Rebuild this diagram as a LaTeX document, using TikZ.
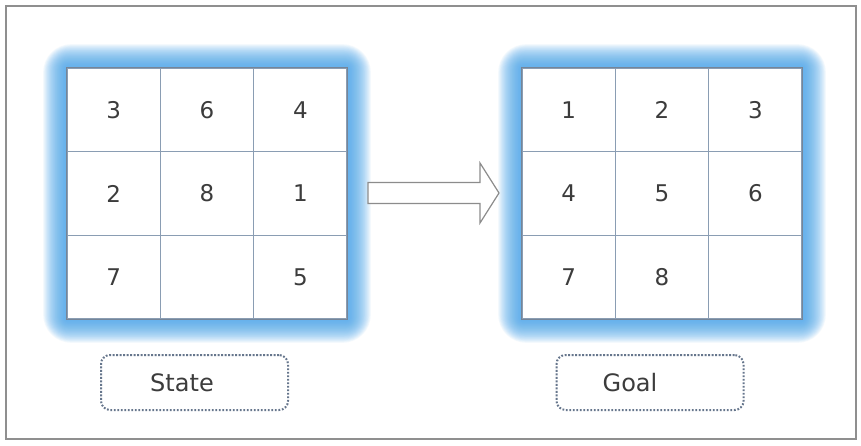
\documentclass[tikz,border=0pt]{standalone}
\usepackage{fontspec}
\setmainfont{DejaVu Sans}
\begin{document}
\begin{tikzpicture}[x=1pt,y=-1pt,
  gridline/.style={draw=gridcol,line width=1.4pt},
  cell/.style={gridline,minimum width=93.33pt,minimum height=83.67pt,inner sep=0pt,fill=white},
  digit/.style={text=txtcol,font=\fontsize{23}{26}\selectfont},
  labelbox/.style={draw=dotcol,line width=2pt,line cap=butt,dash pattern=on 1.8pt off 1.7pt,
     rounded corners=9pt,minimum width=187pt,minimum height=55pt,inner sep=0pt},
  labeltext/.style={font=\fontsize{24}{28}\selectfont,text=txtcol,inner sep=0pt},
  arrowshape/.style={draw=arrcol,line width=1.2pt,fill=white,line join=miter}
]
\definecolor{gridcol}{HTML}{8A9DB3}
\definecolor{txtcol}{HTML}{3C3C3C}
\definecolor{dotcol}{HTML}{66768C}
\definecolor{glowcol}{HTML}{4AA6EC}
\definecolor{arrcol}{HTML}{8C8C8C}
\definecolor{framecol}{HTML}{8F8F8F}
\useasboundingbox (0,0) rectangle (861,446);
\fill[white] (0,0) rectangle (861,446);
\draw[framecol,line width=1.6pt] (6,6) rectangle (856,439);
% glows
\foreach \gx in {67,522}{
  \foreach \i in {1,...,28}{
    \fill[glowcol,opacity=0.058,rounded corners=\i pt]
      ({\gx-\i*0.85},{68-\i*0.85}) rectangle ({\gx+280+\i*0.85},{319+\i*0.85});
  }
}
% grids
\foreach \r/\row in {0/a,1/b,2/c}{
  \foreach \c/\col in {0/1,1/2,2/3}{
    \node[cell] (s\row\col) at ({67+46.67+93.33*\c},{68+41.83+83.67*\r}) {};
    \node[cell] (g\row\col) at ({522+46.67+93.33*\c},{68+41.83+83.67*\r}) {};
  }
}
\node[digit] (sa1t) at (sa1) {3};
\node[digit] (sa2t) at (sa2) {6};
\node[digit] (sa3t) at (sa3) {4};
\node[digit] (sb1t) at (sb1) {2};
\node[digit] (sb2t) at (sb2) {8};
\node[digit] (sb3t) at (sb3) {1};
\node[digit] (sc1t) at (sc1) {7};
\node[digit] (sc3t) at (sc3) {5};
\node[digit] (ga1t) at (ga1) {1};
\node[digit] (ga2t) at (ga2) {2};
\node[digit] (ga3t) at (ga3) {3};
\node[digit] (gb1t) at (gb1) {4};
\node[digit] (gb2t) at (gb2) {5};
\node[digit] (gb3t) at (gb3) {6};
\node[digit] (gc1t) at (gc1) {7};
\node[digit] (gc2t) at (gc2) {8};
% grid outer borders
\draw[gridline,line width=1.5pt,draw=gridcol!85!black] (sa1.north west) rectangle (sc3.south east);
\draw[gridline,line width=1.5pt,draw=gridcol!85!black] (ga1.north west) rectangle (gc3.south east);
% arrow
\draw[arrowshape] (368,182.5) -- (480,182.5) -- (480,163) -- (499,193) -- (480,223) -- (480,203.5) -- (368,203.5) -- cycle;
% labels
\node[labelbox] (statebox) at (194.5,382.5) {};
\node[labeltext] (statetxt) at (182,383) {State};
\node[labelbox] (goalbox) at (650,382.5) {};
\node[labeltext] (goaltxt) at (630,383) {Goal};
\end{tikzpicture}
\end{document}
